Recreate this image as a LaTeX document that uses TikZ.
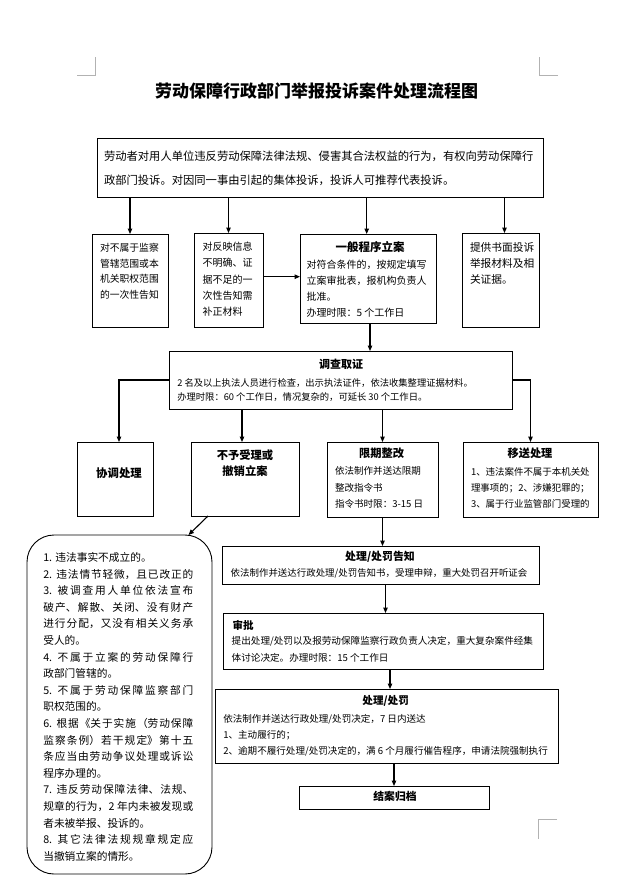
\documentclass[tikz,border=0pt]{standalone}
\usepackage{fontspec}
\setmainfont{Noto Sans CJK SC}
\usetikzlibrary{arrows.meta,calc}
\XeTeXlinebreaklocale "zh"
\XeTeXlinebreakskip=0pt plus 3pt minus 0.3pt
\newcommand\fsz[2]{\fontsize{#1}{#2}\selectfont}
\tikzset{
  box/.style={draw, line width=0.9pt, inner sep=0pt, outer sep=0pt},
  txt/.style={inner sep=0pt, outer sep=0pt, align=left, anchor=north west},
  hd/.style={inner sep=0pt, outer sep=0pt},
  arr/.style={line width=1.1pt, -{Triangle[length=5.5pt,width=4.5pt]}},
  cornermark/.style={draw=black!30, line width=0.7pt}
}
\begin{document}
\begin{tikzpicture}[x=1pt,y=-1pt]
\useasboundingbox (0,0) rectangle (634,891);
% corner marks
\draw[cornermark] (77,75) -- (95.5,75) -- (95.5,57);
\draw[cornermark] (558,75) -- (539,75) -- (539,57);
\draw[cornermark] (557,819) -- (538,819) -- (538,839);
% title
\node[hd, font=\fsz{17}{20}\bfseries] (title) at (316.5,91) {劳动保障行政部门举报投诉案件处理流程图};
% boxes
\node[box, minimum width=446pt, minimum height=59pt] (intro) at (320,167.5) {};
\node[box, minimum width=76pt, minimum height=93pt] (A) at (130,280.5) {};
\node[box, minimum width=69pt, minimum height=94pt] (B) at (228.5,280) {};
\node[box, minimum width=136pt, minimum height=89pt] (C) at (368,278.5) {};
\node[box, minimum width=77pt, minimum height=94pt] (D) at (500.5,280) {};
\node[box, minimum width=343pt, minimum height=58pt] (survey) at (340.5,380) {};
\node[box, minimum width=76pt, minimum height=74pt] (coord) at (115,479) {};
\node[box, minimum width=108pt, minimum height=74pt] (reject) at (245,479) {};
\node[box, minimum width=111pt, minimum height=75pt] (rectify) at (382.5,479.5) {};
\node[box, minimum width=135pt, minimum height=75pt] (transfer) at (530.5,479.5) {};
\node[box, minimum width=317pt, minimum height=38pt] (notice) at (380.5,565) {};
\node[box, minimum width=320pt, minimum height=56pt] (approve) at (383,641) {};
\node[box, minimum width=343pt, minimum height=74pt] (punish) at (386.5,726) {};
\node[box, minimum width=190pt, minimum height=23pt] (close) at (394,797.5) {};
\node[box, rounded corners=27pt, minimum width=185pt, minimum height=339pt] (rounded) at (119.5,704.5) {};
% texts
\node[txt, font=\fsz{11.3}{24}] (tintro) at (104,150.9) {劳动者对用人单位违反劳动保障法律法规、侵害其合法权益的行为，有权向劳动保障行\\政部门投诉。对因同一事由引起的集体投诉，投诉人可推荐代表投诉。};
\node[txt, font=\fsz{9.8}{15.7}] (tA) at (100,243.3) {对不属于监察\\管辖范围或本\\机关职权范围\\的一次性告知};
\node[txt, font=\fsz{10}{16.2}] (tB) at (202.7,242.2) {对反映信息\\不明确、证\\据不足的一\\次性告知需\\补正材料};
\node[hd, font=\fsz{11.5}{14}\bfseries] (hC) at (370,247.3) {一般程序立案};
\node[txt, font=\fsz{10}{15.9}] (tC) at (306.7,260.5) {对符合条件的，按规定填写\\立案审批表，报机构负责人\\批准。\\办理时限：5 个工作日};
\node[txt, font=\fsz{10.7}{16}] (tD) at (470,242.5) {提供书面投诉\\举报材料及相\\关证据。};
\node[hd, font=\fsz{11}{14}\bfseries] (hS) at (341,364) {调查取证};
\node[txt, font=\fsz{9.3}{14}] (tS) at (177.3,378.5) {2 名及以上执法人员进行检查，出示执法证件，依法收集整理证据材料。\\办理时限：60 个工作日，情况复杂的，可延长 30 个工作日。};
\node[hd, font=\fsz{11.4}{14}\bfseries] (tcoord) at (119,472.7) {协调处理};
\node[hd, align=center, font=\fsz{11.3}{16}\bfseries] (treject) at (245,463) {不予受理或\\撤销立案};
\node[hd, font=\fsz{11.25}{14}\bfseries] (hR) at (381.7,453.3) {限期整改};
\node[txt, font=\fsz{9.55}{16.6}] (tR) at (335,466.7) {依法制作并送达限期\\整改指令书\\指令书时限：3-15 日};
\node[hd, font=\fsz{11.2}{14}\bfseries] (hT) at (530,453.3) {移送处理};
\node[txt, font=\fsz{9.45}{15.8}] (tT) at (471,467.4) {1、违法案件不属于本机关处\\理事项的；2、涉嫌犯罪的；\\3、属于行业监管部门受理的};
\node[hd, font=\fsz{10.9}{14}\bfseries] (hN) at (380,556.7) {处理/处罚告知};
\node[txt, font=\fsz{9.45}{15}] (tN) at (230.7,569) {依法制作并送达行政处理/处罚告知书，受理申辩，重大处罚召开听证会};
\node[hd, anchor=west, font=\fsz{10.5}{14}\bfseries] (hA) at (232.7,625) {审批};
\node[txt, font=\fsz{9.6}{16.3}] (tAp) at (231.7,636.7) {提出处理/处罚以及报劳动保障监察行政负责人决定，重大复杂案件经集\\体讨论决定。办理时限：15 个工作日};
\node[hd, font=\fsz{10.6}{14}\bfseries] (hP) at (385.7,701) {处理/处罚};
\node[txt, font=\fsz{9.56}{16.4}] (tP) at (223.3,714) {依法制作并送达行政处理/处罚决定，7 日内送达\\1、主动履行的；\\2、逾期不履行处理/处罚决定的，满 6 个月履行催告程序，申请法院强制执行};
\node[hd, font=\fsz{10.8}{14}\bfseries] (tclose) at (395,796.7) {结案归档};
\node[inner sep=0pt, outer sep=0pt, anchor=north west, text width=150pt, align=justify, font=\fsz{10.7}{16.6}] (trounded) at (43.3,552.5) {\parindent=0pt\parskip=0pt
1. 违法事实不成立的。\par
{\parfillskip=0pt 2. 违法情节轻微，且已改正的\par}
3. 被调查用人单位依法宣布\linebreak 破产、解散、关闭、没有财产\linebreak 进行分配，又没有相关义务承\linebreak 受人的。\par
4. 不属于立案的劳动保障行\linebreak 政部门管辖的。\par
5. 不属于劳动保障监察部门\linebreak 职权范围的。\par
6. 根据《关于实施（劳动保障\linebreak 监察条例）若干规定》第十五\linebreak 条应当由劳动争议处理或诉讼\linebreak 程序办理的。\par
7. 违反劳动保障法律、法规、\linebreak 规章的行为，2 年内未被发现或\linebreak 者未被举报、投诉的。\par
8. 其它法律法规规章规定应\linebreak 当撤销立案的情形。\par};
% connectors
\draw[arr] (intro.south -| A.north) -- (A.north);
\draw[arr] (intro.south -| B.north) -- (B.north);
\draw[arr] ([xshift=-1.3pt]C.north |- intro.south) -- ([xshift=-1.3pt]C.north);
\draw[arr] ([xshift=4pt]D.north |- intro.south) -- ([xshift=4pt]D.north);
\draw[arr] ([yshift=3.3pt]B.east) -- ([yshift=3.3pt]B.east -| C.west);
\draw[arr] ([xshift=2pt]C.south) -- ([xshift=2pt]C.south |- survey.north);
\draw[arr] (survey.west) -| ([xshift=4pt]coord.north);
\draw[arr] ([xshift=-3pt]reject.north |- survey.south) -- ([xshift=-3pt]reject.north);
\draw[arr] (rectify.north |- survey.south) -- (rectify.north);
\draw[arr] (survey.east) -| (transfer.north);
\draw[arr] (rectify.south) -- (rectify.south |- notice.north);
\draw[arr] ([xshift=5pt]notice.south) -- ([xshift=5pt]notice.south |- approve.north);
\draw[arr] ([xshift=7pt]approve.south) -- ([xshift=7pt]approve.south |- punish.north);
\draw[arr] (close.north |- punish.south) -- (close.north);
\draw[arr] ([xshift=-37pt]reject.south) -- ([xshift=69pt]rounded.north);
\end{tikzpicture}
\end{document}
